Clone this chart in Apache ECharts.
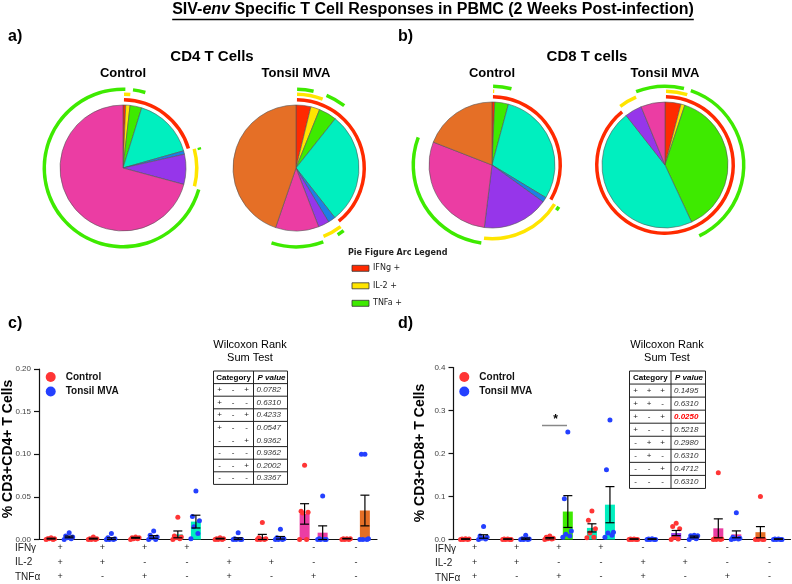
<!DOCTYPE html>
<html><head><meta charset="utf-8">
<script src="https://cdn.jsdelivr.net/npm/echarts@6/dist/echarts.min.js"></script>
<style>html,body{margin:0;padding:0;background:#fff}#c{width:792px;height:584px}</style>
</head><body><div id="c"></div>
<script>
// ---------------- DATA ----------------
const ifngSigns = ['+','+','+','+','-','-','-','-'];
const il2Signs  = ['+','+','-','-','+','+','-','-'];
const tnfaSigns = ['+','-','+','-','+','-','+','-'];
const categories = ifngSigns.map((s,i)=>s+il2Signs[i]+tnfaSigns[i]);
const cytokineRows = ['IFNγ','IL-2','TNFα'];
const catColors = ['#FF2A00','#FFE500','#3EEA00','#00EFBF','#1C7FE6','#9636EA','#EB3DA3','#E56F26'];

// pie fractions (% of response)
const cd4ControlPie = [0.7,1.1,3.0,15.8,0.9,7.7,70.8,0];
const cd4TonsilPie  = [3.8,2.3,4.6,28.7,1.9,2.8,11.1,44.7];
const cd8ControlPie = [0.7,0,3.5,29.5,1.3,17.0,29.0,19.1];
const cd8TonsilPie  = [4.1,1.0,38.0,46.4,0,4.4,6.2,0];

// bar chart c) CD4
const cd4CtrlMean   = [0.001,0.001,0.002,0.006,0.001,0.003,0.030,0.001];
const cd4CtrlSem    = [0.0005,0.0005,0.0005,0.004,0.0004,0.003,0.012,0.0003];
const cd4TonsilMean = [0.003,0.001,0.003,0.021,0.001,0.002,0.008,0.034];
const cd4TonsilSem  = [0.001,0.001,0.0015,0.0075,0.001,0.0015,0.008,0.018];
const cd4CtrlPts = [
 [0.002,0.001,0.001,0.001,0,0],[0.003,0.001,0.001,0,0,0],[0.003,0.002,0.002,0.001,0.001,0],
 [0.026,0.004,0.003,0.002,0.001,0],[0.002,0.001,0.001,0,0,0],[0.020,0.002,0.001,0,0,0],
 [0.087,0.033,0.032,0.031,0,0],[0.001,0.001,0.001,0,0,0]];
const cd4TonsilPts = [
 [0.008,0.004,0.003,0.002,0.001,0],[0.007,0.002,0.001,0,0,0],[0.010,0.005,0.003,0.002,0,0],
 [0.057,0.027,0.022,0.015,0.007,0.001],[0.008,0.001,0,0,0,0],[0.012,0.002,0.001,0,0,0],
 [0.051,0.001,0,0,0,0],[0.100,0.100,0.001,0,0,0]];

// bar chart d) CD8
const cd8CtrlMean   = [0.001,0.001,0.003,0.027,0.001,0.015,0.026,0.017];
const cd8CtrlSem    = [0.0005,0.0003,0.0015,0.0095,0.0003,0.006,0.022,0.013];
const cd8TonsilMean = [0.007,0.002,0.065,0.081,0.001,0.006,0.012,0.001];
const cd8TonsilSem  = [0.004,0.0015,0.037,0.042,0.0005,0.002,0.008,0.0005];
const cd8CtrlPts = [
 [0.002,0.001,0.001,0,0,0],[0.001,0.001,0,0,0,0],[0.008,0.005,0.003,0.002,0.001,0],
 [0.066,0.045,0.025,0.015,0.005,0.004],[0.001,0.001,0,0,0,0],[0.038,0.030,0.025,0.005,0.001,0],
 [0.155,0.002,0.001,0,0,0],[0.100,0.001,0,0,0,0]];
const cd8TonsilPts = [
 [0.030,0.008,0.005,0.003,0.001,0],[0.010,0.002,0.001,0,0,0],[0.250,0.095,0.020,0.012,0.008,0.005],
 [0.278,0.162,0.017,0.015,0.010,0.005],[0.002,0.001,0,0,0,0],[0.010,0.009,0.009,0.005,0.002,0],
 [0.062,0.005,0.003,0.002,0.001,0],[0.001,0.001,0,0,0,0]];

// Wilcoxon tables
const cd4TableSigns = ['+-+','+--','+-+','+--','--+','---','--+','---'];
const cd4PValues = ['0.0782','0.6310','0.4233','0.0547','0.9362','0.9362','0.2002','0.3367'];
const cd8TableSigns = ['+++','++-','+-+','+--','-++','-+-','--+','---'];
const cd8PValues = ['0.1495','0.6310','0.0250','0.5218','0.2980','0.6310','0.4712','0.6310'];
const cd8SigIndex = 2;

// ---------------- STYLE / LAYOUT ----------------
const FONT = "'Liberation Sans', Arial, sans-serif";
const PT_RED = '#FF3535', PT_BLUE = '#2440FF';
const ARC = [
  {mask: ifngSigns, color:'#FF2A00', r:[66.5,70]},
  {mask: il2Signs,  color:'#FFE500', r:[72,75.5]},
  {mask: tnfaSigns, color:'#3EEA00', r:[77,80.5]}
];
const PIE_R = 63;
const BAR_OFF = 0.214;
const JITTER = [0,-3.5,3.5,-2,2,-5,5];

const series = [];
const pies = [
  {v: cd4ControlPie, c:[123,168]},
  {v: cd4TonsilPie,  c:[296,168]},
  {v: cd8ControlPie, c:[492,165]},
  {v: cd8TonsilPie,  c:[665,165]}
];
function arcRuns(values, mask){
  const runs = [];
  values.forEach((v,i)=>{
    if (v<=0) return;
    const on = mask[i]==='+';
    if (runs.length && runs[runs.length-1].on===on) runs[runs.length-1].value += v;
    else runs.push({on, value:v});
  });
  const total = values.reduce((a,b)=>a+b,0);
  let start = 90;
  if (runs.length>1 && runs[0].on===runs[runs.length-1].on){
    const last = runs.pop();
    runs[0].value += last.value;
    start = 90 + last.value/total*360;
  }
  return {runs, start};
}
pies.forEach(p=>{
  series.push({
    type:'pie', center:p.c, radius:[0,PIE_R], startAngle:90, silent:true, animation:false,
    label:{show:false}, labelLine:{show:false},
    data: p.v.map((v,i)=>({name:categories[i], value:v,
      itemStyle:{color:catColors[i], borderColor:'#555', borderWidth: v>0?0.6:0}}))
  });
  ARC.forEach(a=>{
    const {runs,start} = arcRuns(p.v, a.mask);
    if (!runs.some(r=>r.on)) return;
    series.push({
      type:'pie', center:p.c, radius:a.r, startAngle:start, padAngle:1.6, silent:true, animation:false,
      label:{show:false}, labelLine:{show:false},
      data: runs.map(r=>({value:r.value, itemStyle:{color: r.on? a.color : 'rgba(0,0,0,0)', borderWidth:0}}))
    });
  });
});

function barSeries(name, means, idx){
  return {type:'bar', name, xAxisIndex:idx, yAxisIndex:idx, barWidth:10, barGap:'80%', z:2,
    silent:true, animation:false,
    data: means.map((v,i)=>({value:v, itemStyle:{color:catColors[i]}}))};
}
function pointSeries(name, color, pts, idx, side){
  const data = [];
  pts.forEach((arr,g)=>arr.forEach((v,k)=>data.push([g,v,k])));
  return {type:'custom', name, xAxisIndex:idx, yAxisIndex:idx, z:3, animation:false, silent:true,
    itemStyle:{color}, encode:{x:0,y:1},
    renderItem:(params, api)=>{
      const p = api.coord([api.value(0), api.value(1)]);
      const band = api.size([1,0])[0];
      const x = p[0] + side*band*BAR_OFF + JITTER[api.value(2)%JITTER.length];
      return {type:'circle', shape:{cx:x, cy:p[1], r:2.5}, style:{fill:color}};
    }, data};
}
function errSeries(means, sems, idx, side){
  return {type:'custom', xAxisIndex:idx, yAxisIndex:idx, z:4, animation:false, silent:true,
    encode:{x:0,y:1},
    renderItem:(params, api)=>{
      const g=api.value(0), m=api.value(1), s=api.value(2);
      const band = api.size([1,0])[0];
      const t = api.coord([g, m+s]), b = api.coord([g, Math.max(0,m-s)]);
      const x = t[0] + side*band*BAR_OFF, cap=4.5;
      const st = {stroke:'#000', lineWidth:1.2};
      return {type:'group', children:[
        {type:'line', shape:{x1:x,y1:t[1],x2:x,y2:b[1]}, style:st},
        {type:'line', shape:{x1:x-cap,y1:t[1],x2:x+cap,y2:t[1]}, style:st},
        {type:'line', shape:{x1:x-cap,y1:b[1],x2:x+cap,y2:b[1]}, style:st}
      ]};
    },
    data: means.map((m,i)=>[i,m,sems[i]])};
}
[[cd4CtrlMean,cd4CtrlSem,cd4CtrlPts,cd4TonsilMean,cd4TonsilSem,cd4TonsilPts],
 [cd8CtrlMean,cd8CtrlSem,cd8CtrlPts,cd8TonsilMean,cd8TonsilSem,cd8TonsilPts]].forEach((d,idx)=>{
  series.push(barSeries('ctrlBar'+idx, d[0], idx));
  series.push(barSeries('tonsilBar'+idx, d[3], idx));
  series.push(pointSeries('Control', PT_RED, d[2], idx, -1));
  series.push(pointSeries('Tonsil MVA', PT_BLUE, d[5], idx, 1));
  series.push(errSeries(d[0], d[1], idx, -1));
  series.push(errSeries(d[3], d[4], idx, 1));
});

function xAxis(idx){
  return {type:'category', gridIndex:idx, data:categories,
    axisLine:{lineStyle:{color:'#111', width:1.2}},
    axisTick:{length:5, lineStyle:{color:'#111', width:1.2}},
    axisLabel:{interval:0, margin:1, fontSize:9, fontFamily:FONT, color:'#222', lineHeight:14.5,
      formatter:(v,i)=>ifngSigns[i]+'\n'+il2Signs[i]+'\n'+tnfaSigns[i]}};
}
function yAxis(idx, max, interval, dec){
  return {type:'value', gridIndex:idx, min:0, max, interval,
    axisLine:{show:true, lineStyle:{color:'#111', width:1.2}},
    axisTick:{show:true, length:5, lineStyle:{color:'#111', width:1.2}},
    splitLine:{show:false},
    axisLabel:{fontSize:8, fontFamily:FONT, color:'#444', margin:8, formatter:v=>v.toFixed(dec)}};
}

// ---------------- GRAPHICS (text / tables) ----------------
const ctx = document.createElement('canvas').getContext('2d');
function measure(font, s){ ctx.font = font; return ctx.measureText(s).width; }
function txt(x, y, text, font, opts){
  return {type:'text', x, y, silent:true, z:100,
    style:Object.assign({text, font, fill:'#000', align:'left', verticalAlign:'middle',
      textAlign:'left', textVerticalAlign:'middle'}, opts||{})};
}
function ctr(x,y,text,font,opts){ return txt(x,y,text,font,Object.assign({align:'center',textAlign:'center'},opts||{})); }

const g = [];
// main title
const tf1 = `bold 16px ${FONT}`, tf2 = `bold italic 16px ${FONT}`;
const tparts = [['SIV-',tf1],['env',tf2],[' Specific T Cell Responses in PBMC (2 Weeks Post-infection)',tf1]];
const tw = tparts.reduce((a,p)=>a+measure(p[1],p[0]),0);
const tCx = 433;
let tx = tCx - tw/2;
const tY = 10;
tparts.forEach(p=>{ g.push(txt(tx, tY, p[0], p[1])); tx += measure(p[1],p[0]); });
g.push({type:'line', silent:true, shape:{x1:tCx-tw/2, y1:tY+9.5, x2:tCx+tw/2, y2:tY+9.5}, style:{stroke:'#000', lineWidth:1.3}});

const panelFont = `bold 16px ${FONT}`;
g.push(txt(8,37,'a)',panelFont), txt(398,37,'b)',panelFont), txt(8,324,'c)',panelFont), txt(398,324,'d)',panelFont));
g.push(ctr(212,57,'CD4 T Cells',`bold 15px ${FONT}`), ctr(587,57,'CD8 T cells',`bold 15px ${FONT}`));
['Control','Tonsil MVA','Control','Tonsil MVA'].forEach((s,i)=>g.push(ctr(pies[i].c[0],73.5,s,`bold 13px ${FONT}`)));

// arc legend
const LF = "'DejaVu Sans', sans-serif";
g.push(txt(348,253,'Pie Figure Arc Legend',`bold 8px ${LF}`,{fill:'#222'}));
[['IFNg +',ARC[0].color],['IL-2 +',ARC[1].color],['TNFa +',ARC[2].color]].forEach((it,i)=>{
  const y = 268.3 + i*17.5;
  g.push({type:'rect', silent:true, shape:{x:352,y:y-3,width:17,height:6}, style:{fill:it[1], stroke:'#333', lineWidth:0.8}});
  g.push(txt(373,y,it[0],`8px ${LF}`,{fill:'#222'}));
});

// tables
function table(geo, signs, pvals, sigIdx, skip){
  const rows = signs.length+1, bottom = geo.top + geo.rowH*rows;
  const ls = {stroke:'#222', lineWidth:1};
  g.push({type:'rect', silent:true, z:50, shape:{x:geo.left,y:geo.top,width:geo.right-geo.left,height:bottom-geo.top}, style:{fill:'#fff', stroke:'#222', lineWidth:1}});
  g.push({type:'line', silent:true, z:51, shape:{x1:geo.mid,y1:geo.top,x2:geo.mid,y2:bottom}, style:ls});
  for (let r=1;r<rows;r++){
    if (skip.includes(r)) continue;
    const y = geo.top+geo.rowH*r;
    g.push({type:'line', silent:true, z:51, shape:{x1:geo.left,y1:y,x2:geo.right,y2:y}, style:ls});
  }
  g.push(ctr((geo.left+geo.mid)/2, geo.top+geo.rowH/2, 'Category', `bold 8px ${FONT}`));
  g.push(txt(geo.mid+4, geo.top+geo.rowH/2, 'P value', `bold italic 8px ${FONT}`));
  signs.forEach((s,i)=>{
    const y = geo.top + geo.rowH*(i+1.5);
    s.split('').forEach((c,j)=>g.push(ctr(geo.left+[6,19.5,33][j], y, c, `8px ${FONT}`, {fill:'#222'})));
    const sig = i===sigIdx;
    g.push(txt(geo.mid+3, y, pvals[i], (sig?'bold ':'')+`italic 8px ${FONT}`, {fill: sig?'#FF0000':'#333'}));
  });
}
g.push(ctr(250,344.5,'Wilcoxon Rank',`11px ${FONT}`), ctr(250,357.5,'Sum Test',`11px ${FONT}`));
g.push(ctr(667,344.5,'Wilcoxon Rank',`11px ${FONT}`), ctr(667,357.5,'Sum Test',`11px ${FONT}`));
table({left:213.5, mid:253.5, right:287.5, top:371, rowH:12.6}, cd4TableSigns, cd4PValues, -1, [5]);
table({left:629.5, mid:671, right:705.5, top:371, rowH:13.05}, cd8TableSigns, cd8PValues, cd8SigIndex, []);

// cytokine row labels
cytokineRows.forEach((s,i)=>{
  g.push(txt(15, 548+i*14.5, s, `10px ${FONT}`, {fill:'#222'}));
  g.push(txt(435, 549+i*14.5, s, `10px ${FONT}`, {fill:'#222'}));
});
// y axis titles
g.push({type:'text', x:8, y:449, rotation:Math.PI/2, silent:true,
  style:{text:'% CD3+CD4+ T Cells', font:`bold 14px ${FONT}`, fill:'#000', align:'center', verticalAlign:'middle', textAlign:'center', textVerticalAlign:'middle'}});
g.push({type:'text', x:420, y:453, rotation:Math.PI/2, silent:true,
  style:{text:'% CD3+CD8+ T Cells', font:`bold 14px ${FONT}`, fill:'#000', align:'center', verticalAlign:'middle', textAlign:'center', textVerticalAlign:'middle'}});
// significance
g.push({type:'line', silent:true, shape:{x1:542,y1:425.5,x2:567,y2:425.5}, style:{stroke:'#888', lineWidth:1.5}});
g.push(ctr(555.5,420,'*',`bold 12px ${FONT}`));

const legendBase = {data:['Control','Tonsil MVA'], orient:'vertical', icon:'circle', itemWidth:20, itemHeight:10,
  itemGap:4.5, selectedMode:false, textStyle:{fontWeight:'bold', fontSize:10, fontFamily:FONT, color:'#111'}};

const chart = echarts.init(document.getElementById('c'), null, {renderer:'canvas'});
chart.setOption({
  animation:false,
  backgroundColor:'#fff',
  grid:[{left:39, top:369, width:338, height:171.5},{left:453.5, top:367.5, width:337, height:174}],
  xAxis:[xAxis(0), xAxis(1)],
  yAxis:[yAxis(0,0.2,0.05,2), yAxis(1,0.4,0.1,1)],
  legend:[Object.assign({left:40.7, top:367}, legendBase), Object.assign({left:454.3, top:367}, legendBase)],
  series,
  graphic:{elements:g}
});
</script></body></html>
